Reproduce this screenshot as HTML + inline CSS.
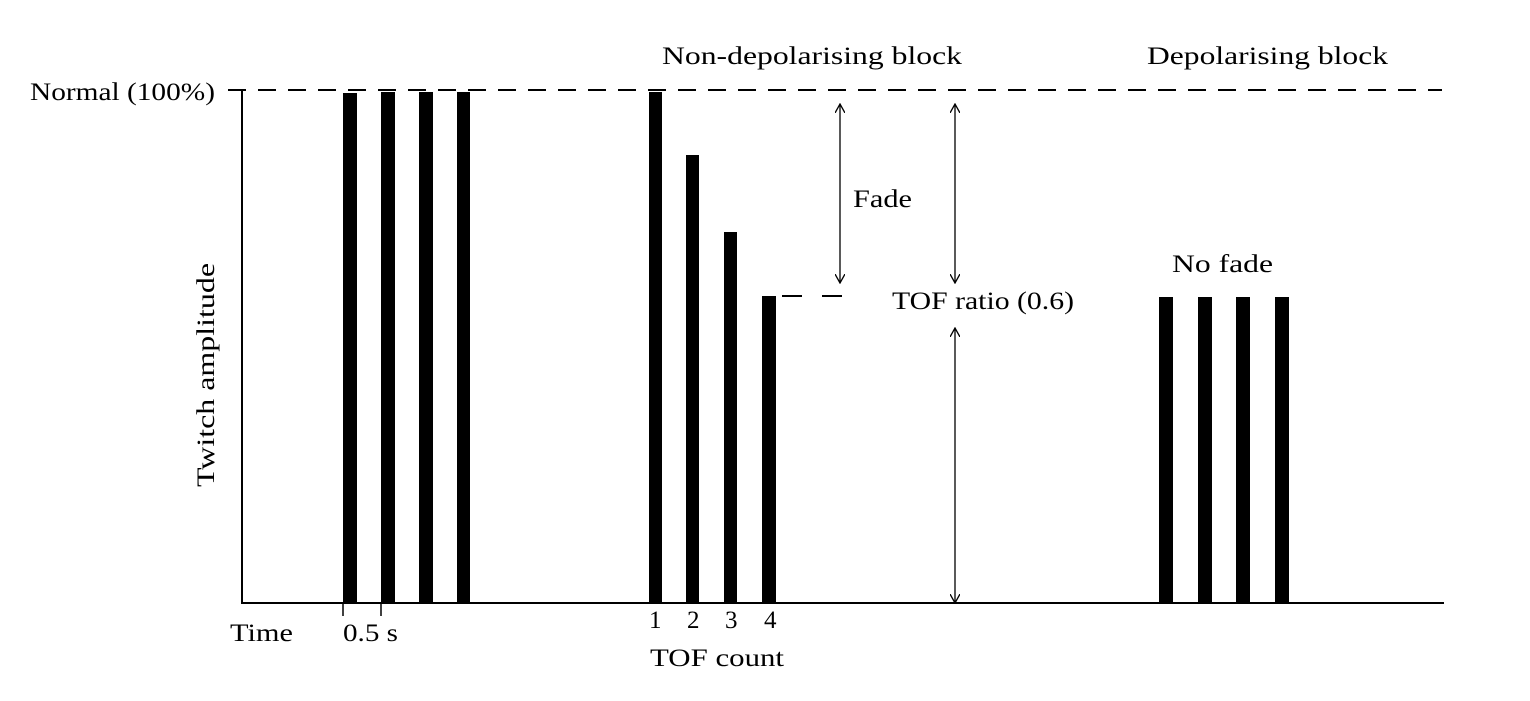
<!DOCTYPE html>
<html><head><style>body{margin:0;background:#fff}</style></head><body>
<svg width="1530" height="696" xmlns="http://www.w3.org/2000/svg" font-family="Liberation Serif, serif" font-size="25" fill="#000">
<defs><marker id="a" viewBox="0 0 10 10" refX="9" refY="5" markerWidth="10" markerHeight="10" orient="auto-start-reverse" markerUnits="userSpaceOnUse"><path d="M0,0 L9,5 L0,10" fill="none" stroke="#000" stroke-width="1.3"/></marker></defs>
<line x1="228" y1="90" x2="1442" y2="90" stroke="#000" stroke-width="2" stroke-dasharray="18,12"/>
<line x1="242" y1="90" x2="242" y2="604" stroke="#000" stroke-width="2"/>
<line x1="241" y1="603" x2="1444" y2="603" stroke="#000" stroke-width="2"/>
<line x1="343" y1="603" x2="343" y2="616" stroke="#000" stroke-width="1.5"/>
<line x1="381" y1="603" x2="381" y2="616" stroke="#000" stroke-width="1.5"/>
<g>
<rect x="343" y="93" width="14" height="510"/><rect x="381" y="92" width="14" height="511"/><rect x="419" y="92" width="14" height="511"/><rect x="457" y="92" width="13" height="511"/>
<rect x="649" y="92" width="13" height="511"/><rect x="686" y="155" width="13" height="448"/><rect x="724" y="232" width="13" height="371"/><rect x="762" y="296" width="14" height="307"/>
<rect x="1159" y="297" width="14" height="306"/><rect x="1198" y="297" width="14" height="306"/><rect x="1236" y="297" width="14" height="306"/><rect x="1275" y="297" width="14" height="306"/>
</g>
<line x1="782" y1="296" x2="846" y2="296" stroke="#000" stroke-width="2" stroke-dasharray="20,20"/>
<line x1="840" y1="104" x2="840" y2="283" stroke="#000" stroke-width="1.3" marker-start="url(#a)" marker-end="url(#a)"/>
<line x1="955" y1="104" x2="955" y2="283" stroke="#000" stroke-width="1.3" marker-start="url(#a)" marker-end="url(#a)"/>
<line x1="955" y1="328" x2="955" y2="603" stroke="#000" stroke-width="1.3" marker-start="url(#a)" marker-end="url(#a)"/>
<text x="30" y="100" textLength="185" lengthAdjust="spacingAndGlyphs">Normal (100%)</text>
<text x="662" y="64" textLength="300" lengthAdjust="spacingAndGlyphs">Non-depolarising block</text>
<text x="1147" y="64" textLength="241" lengthAdjust="spacingAndGlyphs">Depolarising block</text>
<text x="853" y="207" textLength="59" lengthAdjust="spacingAndGlyphs">Fade</text>
<text x="1172" y="272" textLength="101" lengthAdjust="spacingAndGlyphs">No fade</text>
<text x="892" y="309" textLength="182" lengthAdjust="spacingAndGlyphs">TOF ratio (0.6)</text>
<text x="230" y="641" textLength="63" lengthAdjust="spacingAndGlyphs">Time</text>
<text x="343" y="641" textLength="55" lengthAdjust="spacingAndGlyphs">0.5 s</text>
<text x="649" y="628">1</text><text x="687" y="628">2</text><text x="725" y="628">3</text><text x="764" y="628">4</text>
<text x="650" y="666" textLength="134" lengthAdjust="spacingAndGlyphs">TOF count</text>
<text transform="translate(214,487) rotate(-90)" textLength="224" lengthAdjust="spacingAndGlyphs">Twitch amplitude</text>
</svg>
</body></html>
